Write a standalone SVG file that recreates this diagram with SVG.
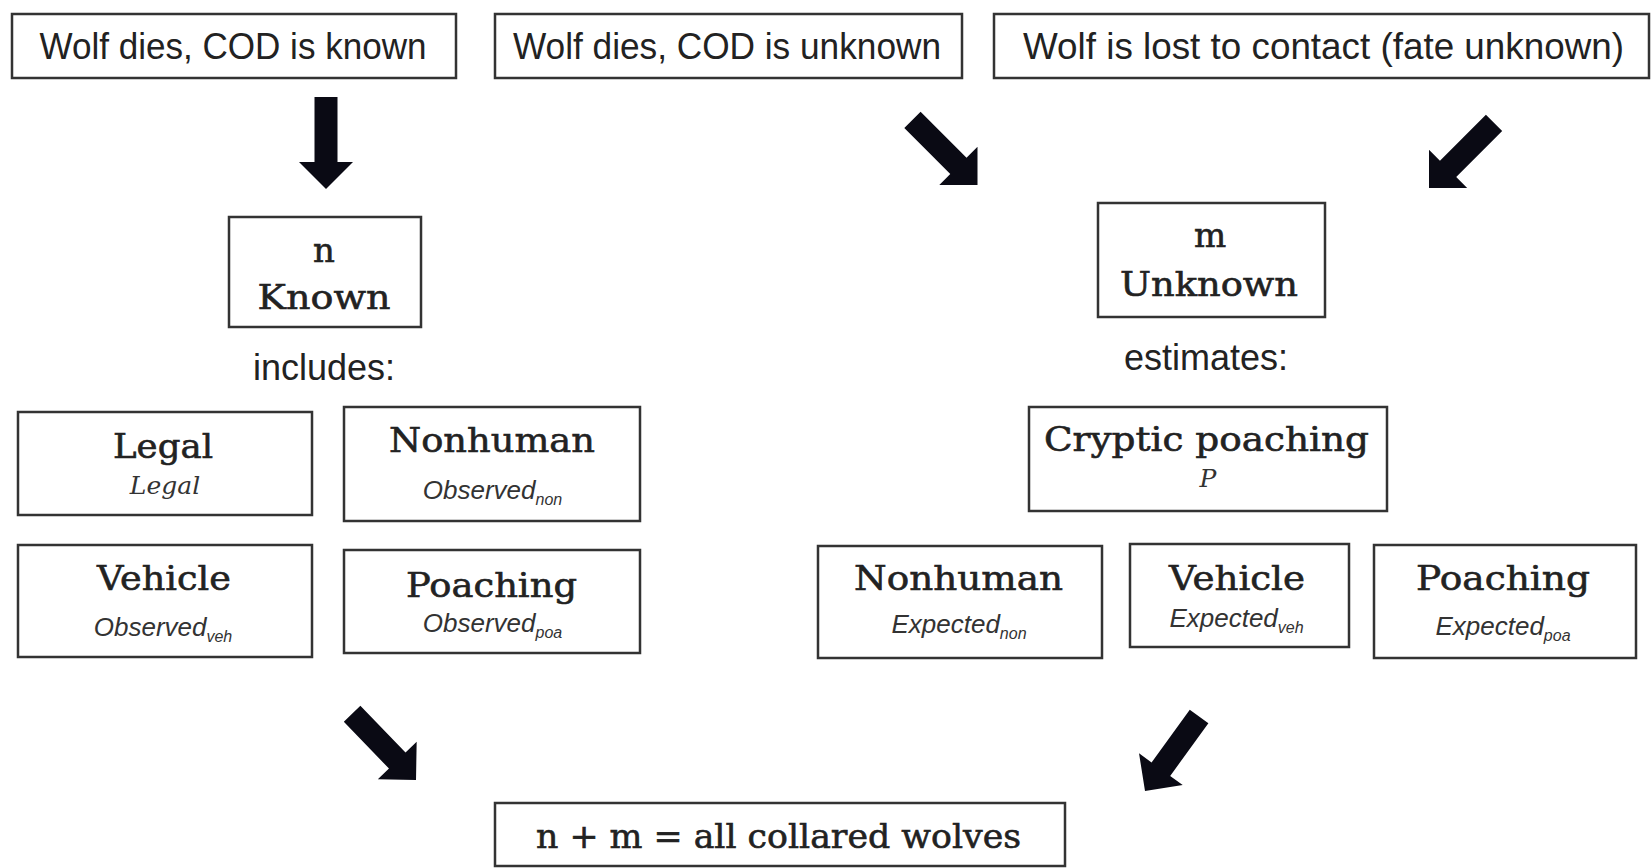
<svg xmlns="http://www.w3.org/2000/svg" xmlns:xlink="http://www.w3.org/1999/xlink" width="1651" height="868" viewBox="0 0 1651 868">
<style>
.box{fill:#fff;stroke:#333;stroke-width:2.5}
.hdr{font-family:"Liberation Sans",Arial,sans-serif;font-size:36px;fill:#222;text-anchor:middle}
.lbl{font-family:"Liberation Sans",Arial,sans-serif;font-size:36px;fill:#222;text-anchor:middle}
.ser{font-family:"DejaVu Serif","Liberation Serif",serif;font-size:34px;fill:#222;stroke:#222;stroke-width:0.6;text-anchor:middle}
.seri{font-family:"DejaVu Serif","Liberation Serif",serif;font-style:italic;font-size:25px;fill:#333;text-anchor:middle}
.it{font-family:"Liberation Sans",Arial,sans-serif;font-style:italic;font-size:26px;fill:#333;text-anchor:middle}
.sub{font-size:16px}
.arr{fill:#0a0a14}
</style>
<defs>
<path id="blk" d="M-11.5,-92 L11.5,-92 L11.5,-27 L27,-27 L0,0 L-27,-27 L-11.5,-27 Z"/>
</defs>
<rect width="1651" height="868" fill="#fff"/>

<g id="connectors">
<use xlink:href="#blk" class="arr" transform="translate(326,189)"/>
<use xlink:href="#blk" class="arr" transform="translate(977.5,185) rotate(-45)"/>
<use xlink:href="#blk" class="arr" transform="translate(1429,188) rotate(45)"/>
<use xlink:href="#blk" class="arr" transform="translate(416,780) rotate(-44)"/>
<use xlink:href="#blk" class="arr" transform="translate(1145,791) rotate(36)"/>
</g>

<g id="top-known">
<rect class="box" x="12" y="14" width="444" height="64"/>
<text class="hdr" x="233" y="59" textLength="387" lengthAdjust="spacingAndGlyphs">Wolf dies, COD is known</text>
</g>
<g id="top-unknown">
<rect class="box" x="495" y="14" width="467" height="64"/>
<text class="hdr" x="727" y="59" textLength="428" lengthAdjust="spacingAndGlyphs">Wolf dies, COD is unknown</text>
</g>
<g id="top-lost">
<rect class="box" x="994" y="14" width="655" height="64"/>
<text class="hdr" x="1323.5" y="59" textLength="601" lengthAdjust="spacingAndGlyphs">Wolf is lost to contact (fate unknown)</text>
</g>

<g id="n-known">
<rect class="box" x="229" y="217" width="192" height="110"/>
<text class="ser" x="324" y="262">n</text>
<text class="ser" x="324" y="309" textLength="133" lengthAdjust="spacingAndGlyphs">Known</text>
</g>
<g id="label-includes">
<text class="lbl" x="324" y="380">includes:</text>
</g>
<g id="legal">
<rect class="box" x="18" y="412" width="294" height="103"/>
<text class="ser" x="163" y="458" textLength="100" lengthAdjust="spacingAndGlyphs">Legal</text>
<text class="seri" x="165" y="494">Legal</text>
</g>
<g id="nonhuman-observed">
<rect class="box" x="344" y="407" width="296" height="114"/>
<text class="ser" x="492" y="452" textLength="206" lengthAdjust="spacingAndGlyphs">Nonhuman</text>
<text class="it" x="492.5" y="499">Observed<tspan class="sub" dy="6">non</tspan></text>
</g>
<g id="vehicle-observed">
<rect class="box" x="18" y="545" width="294" height="112"/>
<text class="ser" x="164" y="590" textLength="134" lengthAdjust="spacingAndGlyphs">Vehicle</text>
<text class="it" x="163" y="636">Observed<tspan class="sub" dy="6">veh</tspan></text>
</g>
<g id="poaching-observed">
<rect class="box" x="344" y="550" width="296" height="103"/>
<text class="ser" x="491.5" y="597" textLength="171" lengthAdjust="spacingAndGlyphs">Poaching</text>
<text class="it" x="492.5" y="632">Observed<tspan class="sub" dy="6">poa</tspan></text>
</g>

<g id="m-unknown">
<rect class="box" x="1098" y="203" width="227" height="114"/>
<text class="ser" x="1210" y="247">m</text>
<text class="ser" x="1209" y="296" textLength="178" lengthAdjust="spacingAndGlyphs">Unknown</text>
</g>
<g id="label-estimates">
<text class="lbl" x="1206" y="370">estimates:</text>
</g>
<g id="cryptic-poaching">
<rect class="box" x="1029" y="407" width="358" height="104"/>
<text class="ser" x="1206.5" y="451" textLength="325" lengthAdjust="spacingAndGlyphs">Cryptic poaching</text>
<text class="seri" x="1208" y="487">P</text>
</g>
<g id="nonhuman-expected">
<rect class="box" x="818" y="546" width="284" height="112"/>
<text class="ser" x="958.5" y="590" textLength="209" lengthAdjust="spacingAndGlyphs">Nonhuman</text>
<text class="it" x="959" y="633">Expected<tspan class="sub" dy="6">non</tspan></text>
</g>
<g id="vehicle-expected">
<rect class="box" x="1130" y="544" width="219" height="103"/>
<text class="ser" x="1237" y="590" textLength="136" lengthAdjust="spacingAndGlyphs">Vehicle</text>
<text class="it" x="1236.5" y="627">Expected<tspan class="sub" dy="6">veh</tspan></text>
</g>
<g id="poaching-expected">
<rect class="box" x="1374" y="545" width="262" height="113"/>
<text class="ser" x="1503" y="590" textLength="174" lengthAdjust="spacingAndGlyphs">Poaching</text>
<text class="it" x="1503" y="635">Expected<tspan class="sub" dy="6">poa</tspan></text>
</g>

<g id="total">
<rect class="box" x="495" y="803" width="570" height="63"/>
<text class="ser" x="778.5" y="848" style="font-size:34px" textLength="485" lengthAdjust="spacingAndGlyphs">n + m = all collared wolves</text>
</g>
</svg>
